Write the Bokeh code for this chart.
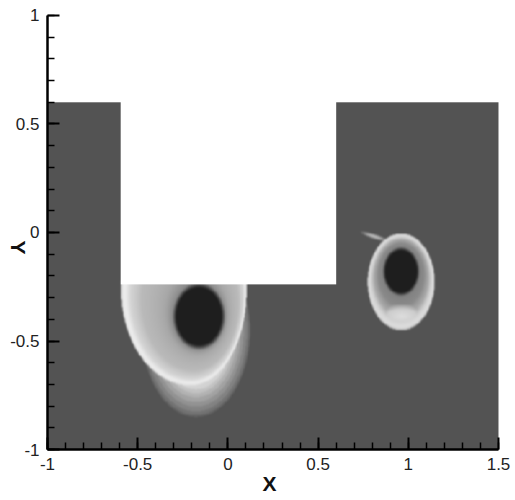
import numpy as np
from bokeh.plotting import figure
from bokeh.models import Range1d, FixedTicker, Label
from bokeh.embed import file_html
from bokeh.resources import INLINE

# Flow domain: a channel with a rectangular block cut from its upper part
domain_x = [-1.0, 1.5]
domain_y = [-1.0, 0.6]
cutout_x = [-0.6, 0.6]
cutout_y = [-0.24, 0.6]

# Axis extent and ticks
axis_x = [-1.0, 1.5]
axis_y = [-1.0, 1.0]
x_tick_values = [-1.0, -0.5, 0.0, 0.5, 1.0, 1.5]
x_tick_labels = ["-1", "-0.5", "0", "0.5", "1", "1.5"]
y_tick_values = [-1.0, -0.5, 0.0, 0.5, 1.0]
y_tick_labels = ["-1", "-0.5", "0", "0.5", "1"]
minor_step = 0.1

# Flood gray levels
background_gray = 83
core_gray = 30

# Vortex A (below the block) and vortex B (downstream): dark cores
core_cx = [-0.163, 0.957]
core_cy = [-0.387, -0.180]
core_rx = [0.139, 0.097]
core_ry = [0.147, 0.108]

# Outer bright contour of each vortex
halo_cx = [-0.209, 0.957]
halo_cy = [-0.267, -0.228]
halo_rx_left = [0.385, 0.186]
halo_rx_right = [0.310, 0.186]
halo_ry = [0.440, 0.2235]

# Gray profile from core edge (0) to outer contour (1)
ring_w_a = [0.0, 0.08, 0.40, 0.82, 0.93, 0.975, 1.0]
ring_gray_a = [128, 140, 168, 186, 212, 238, 225]
ring_w_b = [0.0, 0.10, 0.50, 0.75, 0.88, 0.96, 1.0]
ring_gray_b = [120, 130, 138, 170, 212, 222, 190]

# Wake of vortex A trailing below its outer contour
wake_cx, wake_cy, wake_rx, wake_ry = -0.180, -0.452, 0.305, 0.405
wake_r = [0.64, 0.68, 0.74, 0.80, 0.85, 0.91, 0.96, 1.0]
wake_gray = [215, 200, 178, 160, 144, 128, 110, 83]
wake_band = 16

# Bright lower band of vortex B
glow_cx, glow_cy, glow_rx, glow_ry = 0.962, -0.387, 0.139, 0.055
glow_r = [0.0, 0.6, 1.0]
glow_gray = [222, 205, 150]

# Thin filament above vortex B
wisp_cx, wisp_cy, wisp_len, wisp_thick, wisp_angle = 0.807, -0.018, 0.083, 0.012, -0.26
wisp_r = [0.0, 0.5, 1.0]
wisp_gray = [195, 170, 83]

# Sampling grid over the domain
nx, ny = 626, 401
xs = np.linspace(domain_x[0], domain_x[1], nx)
ys = np.linspace(domain_y[0], domain_y[1], ny)
XX, YY = np.meshgrid(xs, ys)


def ellipse_radius(cx, cy, rx_left, rx_right, ry):
    dx = XX - cx
    rx = np.where(dx < 0, rx_left, rx_right)
    return np.sqrt((dx / rx) ** 2 + ((YY - cy) / ry) ** 2)


def vortex(i, ring_w, ring_gray):
    rc = ellipse_radius(core_cx[i], core_cy[i], core_rx[i], core_rx[i], core_ry[i])
    rh = ellipse_radius(halo_cx[i], halo_cy[i], halo_rx_left[i], halo_rx_right[i], halo_ry[i])
    gap = np.maximum(rc - 1.0, 0.0)
    w = gap / np.maximum(gap + (1.0 - rh), 1e-6)
    g = np.interp(np.clip(w, 0, 1), ring_w, ring_gray)
    mix = np.clip((rc - 0.9) / 0.15, 0, 1)
    g = core_gray * (1 - mix) + g * mix
    return g, rc, rh


field = np.full(XX.shape, float(background_gray))

gA, rcA, rhA = vortex(0, ring_w_a, ring_gray_a)
field = np.where(rhA < 1, gA, field)
wake = np.interp(np.hypot((XX - wake_cx) / wake_rx, (YY - wake_cy) / wake_ry), wake_r, wake_gray)
wake = background_gray + np.round((wake - background_gray) / wake_band) * wake_band
field = np.where(rhA >= 1, np.maximum(field, wake), field)

gB, rcB, rhB = vortex(1, ring_w_b, ring_gray_b)
field = np.where(rhB < 1, gB, field)
rg = np.hypot((XX - glow_cx) / glow_rx, (YY - glow_cy) / glow_ry)
glow = np.interp(rg, glow_r, glow_gray)
field = np.where((rhB < 1) & (rcB > 1.05) & (rg < 1), np.maximum(field, glow), field)

ca, sa = np.cos(wisp_angle), np.sin(wisp_angle)
u = (XX - wisp_cx) * ca + (YY - wisp_cy) * sa
v = -(XX - wisp_cx) * sa + (YY - wisp_cy) * ca
rw = np.hypot(u / wisp_len, v / wisp_thick)
wisp = np.interp(rw, wisp_r, wisp_gray)
field = np.where(rw < 1, np.maximum(field, wisp), field)


def soften(a):
    k = np.array([1, 4, 6, 4, 1], dtype=float) / 16.0
    p = np.pad(a, 2, mode="edge")
    a = sum(k[j] * p[2:-2, j:j + a.shape[1]] for j in range(5))
    p = np.pad(a, 2, mode="edge")
    return sum(k[j] * p[j:j + a.shape[0], 2:-2] for j in range(5))


field = soften(field)

# Pack into RGBA, leaving the block transparent
gray = np.clip(field, 0, 255).astype(np.uint8)
inside_block = (XX > cutout_x[0]) & (XX < cutout_x[1]) & (YY > cutout_y[0])
img = np.empty(XX.shape, dtype=np.uint32)
view = img.view(dtype=np.uint8).reshape(XX.shape + (4,))
view[..., 0] = gray
view[..., 1] = gray
view[..., 2] = gray
view[..., 3] = np.where(inside_block, 0, 255)

# The view reaches past the axes on every side so that tick and axis labels
# sit inside it; the axes are pinned at x = -1 and y = -1.
p = figure(width=515, height=500, output_backend="svg", toolbar_location=None,
           x_range=Range1d(-1.2605, 1.5943), y_range=Range1d(-1.235, 1.0691),
           min_border_left=0, min_border_right=0, min_border_top=0, min_border_bottom=0)
p.background_fill_color = "white"
p.border_fill_color = "white"
p.outline_line_color = None
p.grid.visible = False

p.image_rgba(image=[img], x=domain_x[0], y=domain_y[0],
             dw=domain_x[1] - domain_x[0], dh=domain_y[1] - domain_y[0])


def minor_ticks(major):
    lo, hi = major[0], major[-1]
    n = int(round((hi - lo) / minor_step))
    return [round(lo + k * minor_step, 6) for k in range(n + 1)]


p.xaxis.fixed_location = axis_y[0]
p.yaxis.fixed_location = axis_x[0]
p.xaxis.bounds = tuple(axis_x)
p.yaxis.bounds = tuple(axis_y)

for ax, vals, labs in ((p.xaxis[0], x_tick_values, x_tick_labels),
                       (p.yaxis[0], y_tick_values, y_tick_labels)):
    ax.ticker = FixedTicker(ticks=vals, minor_ticks=minor_ticks(vals))
    ax.major_label_overrides = {float(v): s for v, s in zip(vals, labs)}
    ax.axis_line_color = "black"
    ax.axis_line_width = 2.5
    ax.major_tick_in = 12
    ax.major_tick_out = 0
    ax.minor_tick_in = 7
    ax.minor_tick_out = 0
    ax.major_tick_line_width = 2
    ax.minor_tick_line_width = 1.5
    ax.major_tick_line_color = "black"
    ax.minor_tick_line_color = "black"
    ax.major_label_standoff = 8
    ax.major_label_text_font = "Liberation Sans"
    ax.major_label_text_font_size = "17px"
    ax.major_label_text_color = "#222222"

p.add_layout(Label(x=0.231, y=-1.157, text="X", text_align="center", text_baseline="middle",
                   text_font="Liberation Sans", text_font_style="bold", text_font_size="21px",
                   text_color="#111111"))
p.add_layout(Label(x=-1.161, y=-0.069, text="Y", angle=-np.pi / 2, text_align="center",
                   text_baseline="middle", text_font="Liberation Sans", text_font_style="bold",
                   text_font_size="21px", text_color="#111111"))

open("out.html", "w").write(file_html(p, INLINE))
